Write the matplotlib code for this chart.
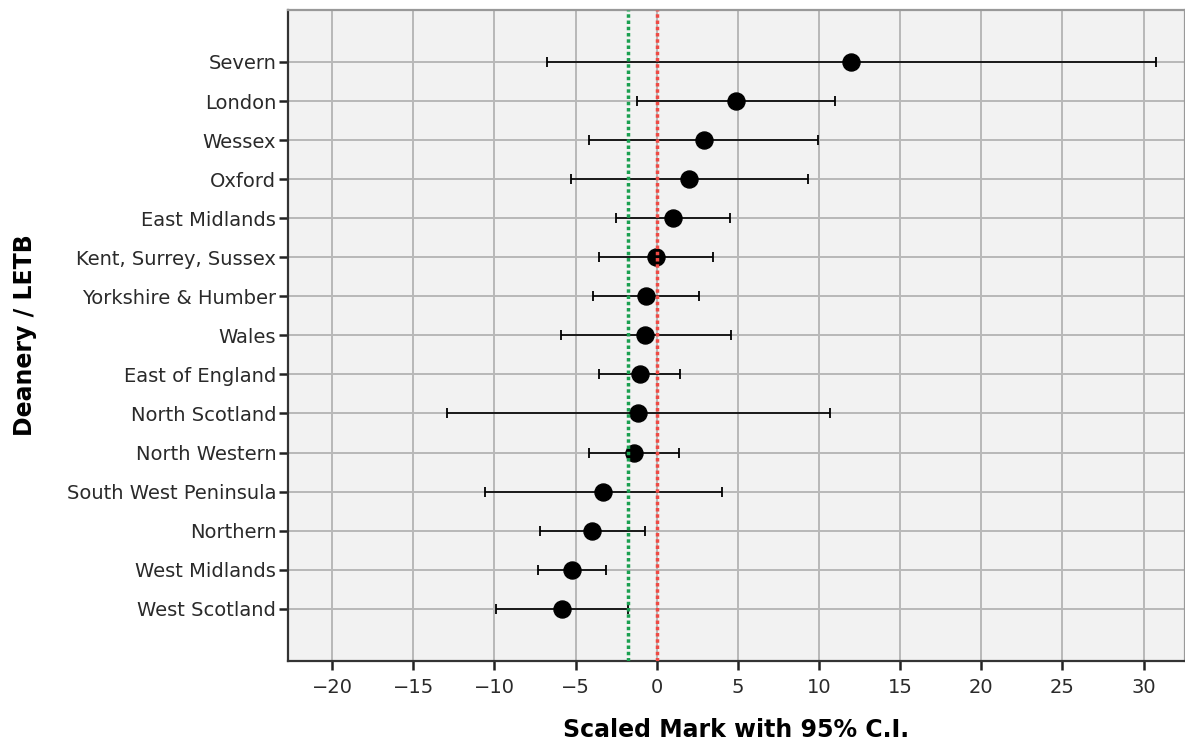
import matplotlib.pyplot as plt
import numpy as np

# Deanery / LETB scaled marks with 95% CI
deaneries = ["Severn", "London", "Wessex", "Oxford", "East Midlands",
             "Kent, Surrey, Sussex", "Yorkshire & Humber", "Wales",
             "East of England", "North Scotland", "North Western",
             "South West Peninsula", "Northern", "West Midlands", "West Scotland"]
means = [12.0, 4.9, 2.9, 2.0, 1.0, -0.05, -0.65, -0.7, -1.05, -1.15, -1.4,
         -3.3, -4.0, -5.2, -5.85]
ci_low = [-6.75, -1.2, -4.2, -5.3, -2.5, -3.55, -3.9, -5.9, -3.55, -12.9, -4.2,
          -10.55, -7.2, -7.3, -9.9]
ci_high = [30.75, 11.0, 9.95, 9.35, 4.5, 3.45, 2.6, 4.55, 1.45, 10.65, 1.35,
           4.0, -0.7, -3.1, -1.75]
ref_green = -1.75
ref_red = 0
xticks = [-20, -15, -10, -5, 0, 5, 10, 15, 20, 25, 30]

means = np.array(means)
lo_err = means - np.array(ci_low)
hi_err = np.array(ci_high) - means
ypos = np.arange(len(deaneries))

fig = plt.figure(figsize=(11.85, 7.46), dpi=100)
ax = fig.add_axes([0.243, 0.1143, 0.757, 0.8723])
ax.set_facecolor("#f2f2f2")

ax.errorbar(means, ypos, xerr=[lo_err, hi_err], fmt="none", ecolor="black",
            elinewidth=1.2, capsize=3.5, capthick=1.3, zorder=3)
ax.scatter(means, ypos, s=150, color="black", zorder=4)

# reference lines sit on top of the points
ax.axvline(ref_green, color="#1aa050", lw=2.5, linestyle=(0, (1, 0.8)), zorder=5)
ax.axvline(ref_red, color="#f04a44", lw=2.5, linestyle=(0, (1, 0.8)), zorder=5)

ax.set_xlim(-22.72, 32.55)
ax.set_ylim(len(deaneries) - 1 + 1.33, -1.33)
ax.set_xticks(xticks)
ax.set_xticklabels([str(t).replace("-", "\u2212") for t in xticks])
ax.set_yticks(ypos)
ax.set_yticklabels(deaneries)

ax.grid(True, color="#b8b8b8", lw=1.4, zorder=0)
ax.set_axisbelow(True)

for side in ["left", "bottom"]:
    ax.spines[side].set_color("#333333")
    ax.spines[side].set_linewidth(1.6)
for side in ["top", "right"]:
    ax.spines[side].set_color("#999999")
    ax.spines[side].set_linewidth(1.6)

ax.tick_params(axis="both", direction="out", length=6.5, width=1.8,
               color="#222222", labelsize=14, labelcolor="#2a2a2a")
ax.tick_params(axis="x", pad=6)
ax.tick_params(axis="y", pad=2)

ax.set_xlabel("Scaled Mark with 95% C.I.", fontsize=17, fontweight="semibold")
ax.set_ylabel("Deanery / LETB", fontsize=17, fontweight="semibold")
ax.xaxis.set_label_coords(0.5, -0.106)
ax.yaxis.set_label_coords(-0.293, 0.5)
ax.xaxis.label.set_va("center")
ax.yaxis.label.set_va("center")

fig.savefig("out.png", dpi=100)
